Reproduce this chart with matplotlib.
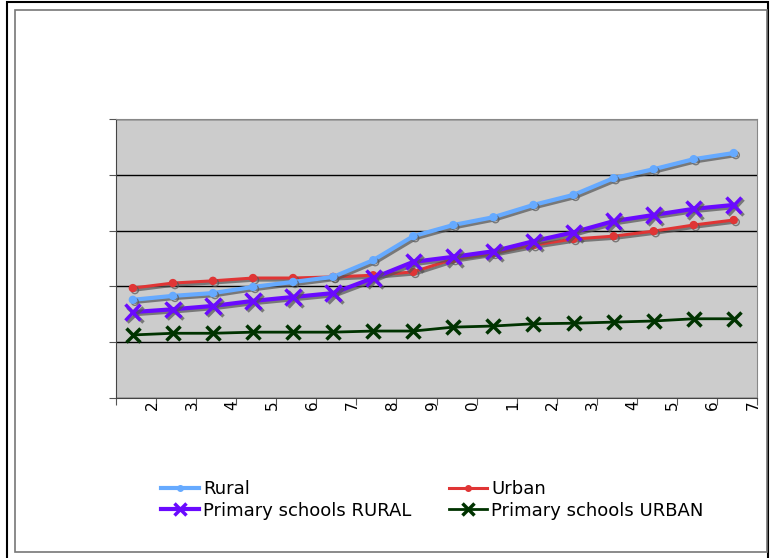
import matplotlib.pyplot as plt
import matplotlib.patheffects as pe
from matplotlib.patches import Rectangle
from matplotlib.lines import Line2D

years = list(range(1992, 2008))
tick_labels = [str(y)[-1] for y in years]

rural = [1.76, 1.83, 1.88, 1.99, 2.08, 2.17, 2.47, 2.90, 3.10, 3.24, 3.46, 3.64, 3.94, 4.10, 4.28, 4.39]
urban = [1.97, 2.06, 2.10, 2.15, 2.15, 2.17, 2.20, 2.26, 2.49, 2.60, 2.74, 2.85, 2.90, 2.99, 3.10, 3.19]
prim_rural = [1.54, 1.59, 1.65, 1.74, 1.81, 1.88, 2.15, 2.44, 2.53, 2.63, 2.81, 2.97, 3.17, 3.28, 3.39, 3.46]
prim_urban = [1.13, 1.16, 1.16, 1.18, 1.18, 1.18, 1.20, 1.20, 1.27, 1.29, 1.33, 1.34, 1.36, 1.38, 1.42, 1.42]

W, H = 770, 558
fig = plt.figure(figsize=(W / 100, H / 100), dpi=100)

# outer frames
fig.add_artist(Rectangle((7 / W, -0.05), (768 - 7) / W, 1.05 - 2 / H, transform=fig.transFigure,
                         fill=False, edgecolor='black', lw=1.5))
fig.add_artist(Rectangle((15 / W, 1 - 552 / H), (767 - 15) / W, (552 - 10) / H,
                         transform=fig.transFigure, fill=False, edgecolor='#777777', lw=1.2))

left, right, top, bottom = 116, 757, 119, 398
ax = fig.add_axes([left / W, 1 - bottom / H, (right - left) / W, (bottom - top) / H])
ax.set_facecolor('#CCCCCC')
x = list(range(len(years)))

shadow = [pe.SimpleLineShadow(offset=(1.5, -1.5), shadow_color='#555555', alpha=0.7), pe.Normal()]

styles = [
    ('Rural', rural, dict(color='#66AAFF', lw=3, marker='o', ms=5), True, 4),
    ('Urban', urban, dict(color='#E03535', lw=2.2, marker='o', ms=5), True, 3),
    ('Primary schools RURAL', prim_rural, dict(color='#6A0AFF', lw=3, marker='x', ms=11, mew=2.5), True, 5),
    ('Primary schools URBAN', prim_urban, dict(color='#003300', lw=2, marker='x', ms=10, mew=2.5), False, 3),
]
handles = {}
for name, vals, st, sh, z in styles:
    ax.plot(x, vals, path_effects=shadow if sh else None, zorder=z, **st)
    hs = dict(st)
    hs['ms'] = st['ms'] * 0.8
    handles[name] = Line2D([], [], **hs)

ax.set_xlim(-0.42, 15.52)
ax.set_ylim(0, 5)
ax.set_yticks(range(0, 6))
ax.set_yticklabels([])
ax.grid(axis='y', color='black', lw=1)
ax.set_axisbelow(True)
ax.set_xticks([i - 0.42 for i in range(17)])
ax.set_xticklabels([])
ax.tick_params(axis='both', direction='out', length=5, color='#555555')
for s in ax.spines.values():
    s.set_color('#888888')
ax.spines['left'].set_color('#444444')
ax.spines['bottom'].set_color('#444444')

# clipped rotated category labels
clip = Rectangle((0, 1 - 411 / H), 1, 12 / H, transform=fig.transFigure, visible=False)
fig.add_artist(clip)
for i, lab in enumerate(tick_labels):
    t = fig.text((left + 36 + i * 40.06) / W, 1 - 400 / H, lab, rotation=90, fontsize=11,
                 ha='center', va='top')
    t.set_clip_path(clip)

order = ['Rural', 'Primary schools RURAL', 'Urban', 'Primary schools URBAN']
fig.legend([handles[n] for n in order], order, ncol=2, frameon=False,
           loc='upper left', bbox_to_anchor=(161 / W, 1 - 480 / H), fontsize=13,
           handlelength=2.1, handletextpad=0.25, columnspacing=2.05, labelspacing=0.2,
           borderaxespad=0, borderpad=0)

fig.savefig('out.png', dpi=100)
